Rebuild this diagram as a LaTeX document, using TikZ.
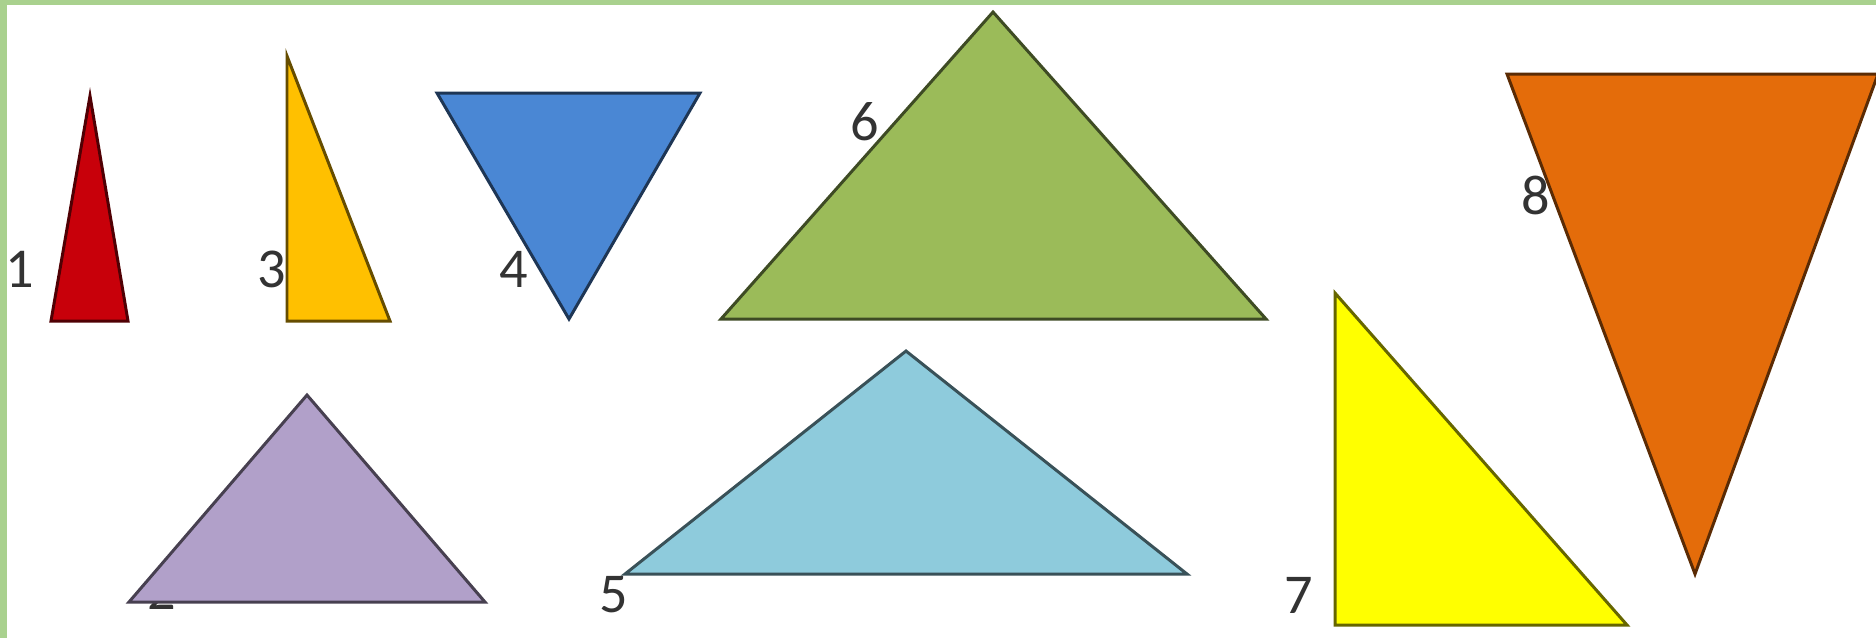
\documentclass[tikz,border=0pt]{standalone}
\usepackage{fontspec}
\setmainfont{Carlito}
\usetikzlibrary{positioning}
\definecolor{FrameGreen}{HTML}{A9D18E}
\definecolor{TriRed}{HTML}{C8000A}
\definecolor{TriAmber}{HTML}{FFC000}
\definecolor{TriBlue}{HTML}{4A87D4}
\definecolor{TriGreen}{HTML}{9BBB59}
\definecolor{TriLilac}{HTML}{B1A0C9}
\definecolor{TriCyan}{HTML}{8ECBDC}
\definecolor{TriYellow}{HTML}{FFFF00}
\definecolor{TriOrange}{HTML}{E46C0A}

\begin{document}
\begin{tikzpicture}[x=0.01cm, y=-0.01cm,
    tri/.style={fill=#1, draw=#1!40!black, line width=0.85pt, line join=miter},
    num/.style={inner sep=0pt, text=black!80, font=\fontsize{16}{18}\selectfont}]
  \useasboundingbox (0,0) rectangle (1876,638);
  \fill[white] (0,0) rectangle (1876,638);
  % frame
  \fill[FrameGreen] (0,0) rectangle (1876,5);
  \fill[FrameGreen] (0,0) rectangle (7,638);
  % top row
  \draw[tri=TriRed] (51,321) -- (90,96) -- (128,321) -- cycle;
  \node[num] (n1) at (20,269) {1};
  \draw[tri=TriAmber] (287,56) -- (287,321) -- (390,321) -- cycle;
  \node[num] (n3) at (272,269) {3};
  \draw[tri=TriBlue] (437,93) -- (700,93) -- (569,319) -- cycle;
  \node[num] (n4) at (514,269) {4};
  \draw[tri=TriGreen] (721,319) -- (993,12) -- (1266,319) -- cycle;
  \node[num] (n6) at (865,122) {6};
  \draw[tri=TriOrange] (1507,74) -- (1878,74) -- (1695,574) -- cycle;
  \node[num] (n8) at (1536,195) {8};
  % bottom row (label 2 sits mostly under the triangle)
  \node[num] (n2) at (162,591) {2};
  \draw[tri=TriLilac] (129,602) -- (307,395) -- (485,602) -- cycle;
  \draw[tri=TriCyan] (625,574) -- (906,351) -- (1187,574) -- cycle;
  \node[num] (n5) at (614,595) {5};
  \draw[tri=TriYellow] (1335,293) -- (1335,625) -- (1627,625) -- cycle;
  \node[num] (n7) at (1299,595) {7};
\end{tikzpicture}
\end{document}
